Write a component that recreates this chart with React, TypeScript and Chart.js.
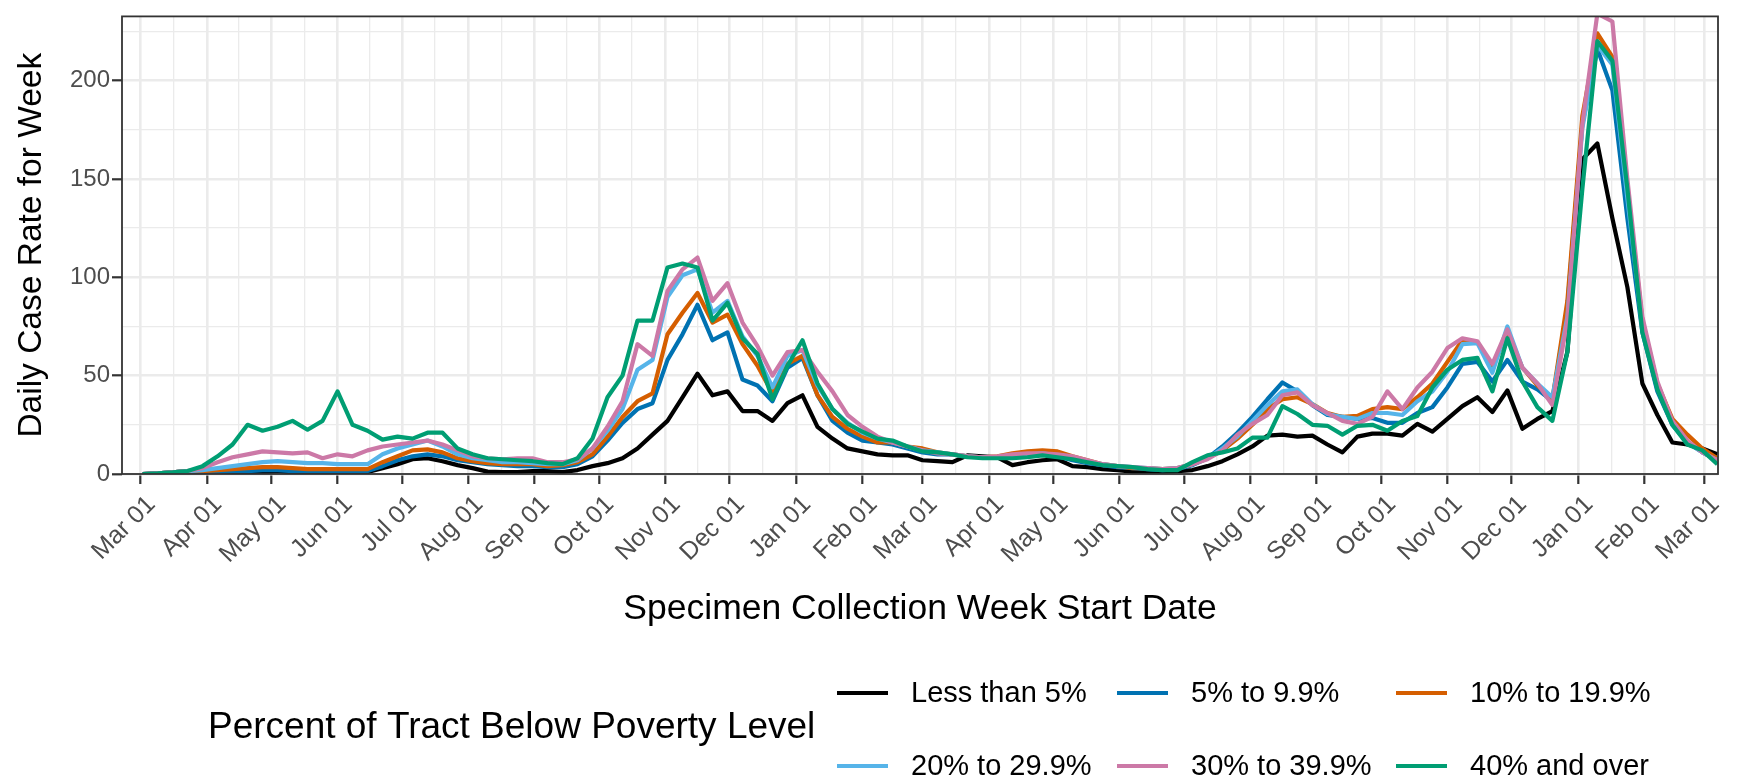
import React, { useEffect, useRef } from "react";
import { Chart, registerables } from "chart.js";

Chart.register(...registerables);

// ---------- DATA ----------
const seriesNames = [
  "Less than 5%",
  "5% to 9.9%",
  "10% to 19.9%",
  "20% to 29.9%",
  "30% to 39.9%",
  "40% and over",
];
const seriesColors = ["#000000", "#0072B2", "#D55E00", "#56B4E9", "#CC79A7", "#009E73"];

const legendTitle = "Percent of Tract Below Poverty Level";
const xTitle = "Specimen Collection Week Start Date";
const yTitle = "Daily Case Rate for Week";

// weekly values, first week starting 2020-03-02, 106 weeks
const lessThan5 = [
  0, 0.3, 0.8, 1.5, 1, 0.5, 0.5, 0.5, 0.8, 1.5, 0.8, 0.8, 0.8, 1, 1, 1, 3, 5, 7.5, 8,
  6.5, 4.5, 3, 1.2, 1, 1, 1.5, 1.5, 1, 2, 4, 5.5, 8, 13, 20, 27, 39, 51, 40, 42,
  32, 32, 27, 36, 40, 24, 18, 13, 11.5, 10, 9.5, 9.5, 7, 6.5, 6, 9.5, 9, 8.5, 4.5, 6,
  7, 7.5, 4, 3.5, 2.5, 2, 1.2, 1.2, 1.2, 1.5, 2, 4, 6.5, 10, 14, 19.5, 20, 19, 19.5, 15,
  11, 19, 20.5, 20.5, 19.5, 25.5, 21.5, 28, 34.5, 39, 31.5, 42.5, 23, 28, 32, 62, 160, 168, 130, 95,
  46, 30, 16, 15, 13, 10,
];
const pct5to9 = [
  0, 0.3, 0.8, 1.5, 1, 1, 1.5, 1.5, 2, 2, 1.5, 1.5, 1.5, 1.5, 1.5, 1.5, 4, 7, 9, 10,
  9, 7, 6, 5, 4.5, 4, 4, 3.5, 3.5, 5, 9, 17, 26, 33, 36, 58, 71, 86, 68, 72,
  48, 45, 37, 54, 59, 40, 27, 21, 17, 16, 15, 13, 11, 10, 10, 9, 8.5, 8.5, 9, 10,
  10, 9, 7, 5.5, 4.5, 3.5, 3, 2.5, 2, 2.5, 4.5, 8, 14, 21, 29, 38, 46.5, 42, 35, 30,
  29, 28, 28.5, 26, 26, 31, 34, 44, 56, 57, 47, 58, 47, 43, 37, 85, 178, 216, 195, 130,
  72, 42, 25, 16, 11, 7,
];
const pct10to19 = [
  0, 0.3, 0.8, 1.5, 1.5, 2, 2.5, 3, 3.5, 3.5, 3, 2.5, 2.5, 2.5, 2.5, 2.5, 6, 9, 12, 12.5,
  11, 8, 6.5, 5.5, 5, 5, 5, 4, 4.5, 6, 10, 19, 29, 37, 41, 71, 82, 92, 77, 81,
  66, 55, 41, 56, 60, 40, 29, 23, 19, 16, 16, 14, 13, 11, 10, 9, 8.5, 9, 10.5, 11.5,
  12, 11.5, 9, 7, 5, 4, 3, 3, 2.5, 3, 5, 8, 12, 18, 25, 33, 38, 39, 35.5, 31,
  29, 29.5, 33, 34, 33, 39, 46, 57, 68, 67, 54, 72, 54, 45, 38, 88, 182, 224, 212, 145,
  78, 46, 28, 20, 13, 8,
];
const pct20to29 = [
  0, 0.3, 0.8, 1.5, 2, 3, 4, 5, 6, 6.5, 6, 5.5, 5.5, 5, 5, 5, 10, 13, 15, 17,
  14, 10, 8, 7, 6, 6, 5.5, 5, 5, 7, 13, 22, 33, 53, 58, 90, 101, 104, 82, 88,
  70, 60, 44, 60, 63, 45, 33, 26, 21, 18, 16, 14, 12, 11, 10, 9, 8.5, 8.5, 9, 10,
  10.5, 9.5, 8, 6, 5, 4, 3.5, 3, 2.5, 3, 5, 8, 13, 19, 27, 35, 42, 43, 35.5, 30.5,
  29, 28, 31, 31, 30, 37, 42, 52, 66, 66.5, 51.5, 75, 54, 46, 39, 80, 176, 218, 208, 140,
  75, 45, 25, 16, 11, 7,
];
const pct30to39 = [
  0, 0.3, 0.8, 1.5, 3, 6, 8.5, 10, 11.5, 11, 10.5, 11, 8, 10, 9, 12, 14, 15, 16, 17,
  15, 12, 9, 8, 7.5, 8, 8, 6, 6, 7.5, 13, 24, 37, 66, 60, 93, 104, 110, 88, 97,
  77, 65, 50, 62, 63, 52, 42, 30, 24, 19, 16, 14, 12, 10.5, 10, 9, 8.5, 9, 10, 10.5,
  10.5, 10, 9, 7, 5, 4, 3.5, 3, 2.5, 3, 5, 7.5, 12, 20, 25.5, 30, 40, 41.5, 35, 31,
  27, 25.5, 29, 42, 33, 44, 52, 64, 69, 67.5, 56, 73.5, 54, 46, 35, 78, 178, 234, 230, 150,
  80, 47, 27, 17, 11, 7,
];
const pct40plus = [
  0, 0.3, 0.8, 1.5, 4, 9, 15, 25, 22, 24, 27, 22.5, 27, 42, 25, 22, 17.5, 19, 18, 21,
  21, 13, 10, 8, 7.5, 7, 6.5, 5.5, 5, 8, 18, 39, 50, 78, 78, 105, 107, 105, 78, 87,
  69, 61, 38, 55, 68, 46, 33, 25.5, 21.5, 18, 17, 14, 11.5, 11, 10, 8.5, 8, 8, 8, 8.5,
  9.5, 8.5, 7.5, 6, 4.5, 4, 3.5, 2.5, 2, 2, 6, 9.5, 11, 13, 18.5, 18.5, 34.5, 30.5, 25, 24.5,
  20, 24.5, 25, 22, 27, 29.5, 44, 53, 58, 59, 42, 69, 47, 34, 27, 62, 145, 220, 210, 145,
  72, 43, 25, 15, 12, 5,
];
const seriesValues = [lessThan5, pct5to9, pct10to19, pct20to29, pct30to39, pct40plus];

const yMajorTicks = [0, 50, 100, 150, 200];
const yMinorTicks = [25, 75, 125, 175, 225];
const monthAbbr = ["Jan", "Feb", "Mar", "Apr", "May", "Jun", "Jul", "Aug", "Sep", "Oct", "Nov", "Dec"];

// ---------- helpers ----------
const DAY_MS = 86400000;
const ORIGIN = Date.UTC(2020, 2, 1);
const dayOf = (y: number, m: number, d: number) => (Date.UTC(y, m, d) - ORIGIN) / DAY_MS;

// week start dates (Mondays) as day offsets
const weekX = lessThan5.map((_, i) => dayOf(2020, 2, 2 + 7 * i));

// month-start major ticks Mar 2020 .. Mar 2022
const xMajor: { value: number; label: string }[] = [];
for (let i = 0; i <= 24; i++) {
  const mm = 2 + i;
  const yy = 2020 + Math.floor(mm / 12);
  const m = mm % 12;
  xMajor.push({ value: dayOf(yy, m, 1), label: monthAbbr[m] + " 01" });
}
const xMinor: number[] = [];
for (let i = 0; i < xMajor.length - 1; i++) {
  xMinor.push((xMajor[i].value + xMajor[i + 1].value) / 2);
}
const xLabelMap = new Map(xMajor.map((t) => [t.value, t.label]));
const xMajorSet = new Set(xMajor.map((t) => t.value));
const yMajorSet = new Set(yMajorTicks);

const X_MIN = -8.6;
const X_MAX = 736.3;
const Y_MAX = 232.6;

const FONT = '"Liberation Sans", Arial, Helvetica, sans-serif';

const panelLegendPlugin = {
  id: "panelLegend",
  afterDatasetsDraw(chart: any) {
    const { ctx, chartArea } = chart;
    ctx.save();
    ctx.strokeStyle = "#333333";
    ctx.lineWidth = 1.8;
    ctx.strokeRect(chartArea.left, chartArea.top, chartArea.right - chartArea.left, chartArea.bottom - chartArea.top);
    ctx.restore();
  },
  afterDraw(chart: any) {
    const { ctx } = chart;
    ctx.save();
    ctx.fillStyle = "#000000";
    ctx.textBaseline = "middle";
    ctx.textAlign = "left";
    ctx.font = `37px ${FONT}`;
    ctx.fillText(legendTitle, 208, 728);
    const colKeyX = [837, 1117, 1396];
    const rowY = [693, 766];
    ctx.font = `29px ${FONT}`;
    seriesNames.forEach((name, i) => {
      const col = i % 3;
      const row = Math.floor(i / 3);
      const kx = colKeyX[col];
      const ky = rowY[row];
      ctx.strokeStyle = seriesColors[i];
      ctx.lineWidth = 4.2;
      ctx.beginPath();
      ctx.moveTo(kx, ky);
      ctx.lineTo(kx + 51, ky);
      ctx.stroke();
      ctx.fillStyle = "#000000";
      ctx.fillText(name, kx + 74, ky + 1);
    });
    ctx.restore();
  },
};

export default function App() {
  const canvasRef = useRef<HTMLCanvasElement | null>(null);

  useEffect(() => {
    const canvas = canvasRef.current;
    if (!canvas) return;
    const chart = new Chart(canvas, {
      type: "line",
      data: {
        datasets: seriesValues.map((vals, s) => ({
          label: seriesNames[s],
          data: vals.map((v, i) => ({ x: weekX[i], y: v })),
          borderColor: seriesColors[s],
          backgroundColor: seriesColors[s],
          borderWidth: 4.2,
          pointRadius: 0,
          tension: 0,
          fill: false,
          borderJoinStyle: "round",
          order: seriesNames.length - s,
        })),
      },
      options: {
        responsive: false,
        animation: false,
        devicePixelRatio: 1,
        events: [],
        layout: { padding: { top: 12, right: 20, bottom: 146, left: 0 } },
        plugins: { legend: { display: false }, tooltip: { enabled: false }, title: { display: false } },
        scales: {
          x: {
            type: "linear",
            bounds: "data",
            min: X_MIN,
            max: X_MAX,
            afterBuildTicks: (scale: any) => {
              const all = [...xMajor.map((t) => t.value), ...xMinor].sort((a, b) => a - b);
              scale.ticks = all.map((v) => ({ value: v }));
            },
            afterFit: (scale: any) => {
              scale.height = 160;
            },
            ticks: {
              autoSkip: false,
              maxRotation: 45,
              minRotation: 45,
              padding: 6,
              labelOffset: 11,
              color: "#4D4D4D",
              font: { family: FONT, size: 25 },
              callback: (value: any) => xLabelMap.get(Number(value)) ?? "",
            },
            grid: {
              color: "#EBEBEB",
              lineWidth: (c: any) => (c.tick && xMajorSet.has(c.tick.value) ? 2.6 : 1.3),
              drawTicks: true,
              tickLength: 10,
              tickWidth: 2.2,
              tickColor: (c: any) => (c.tick && xMajorSet.has(c.tick.value) ? "#333333" : "rgba(0,0,0,0)"),
            },
            border: { display: false },
            title: {
              display: true,
              text: xTitle,
              color: "#000000",
              font: { family: FONT, size: 35.5 },
              padding: { top: 0, bottom: 3 },
            },
          },
          y: {
            type: "linear",
            bounds: "data",
            min: 0,
            max: Y_MAX,
            afterBuildTicks: (scale: any) => {
              const all = [...yMajorTicks, ...yMinorTicks].sort((a, b) => a - b);
              scale.ticks = all.map((v) => ({ value: v }));
            },
            afterFit: (scale: any) => {
              scale.width = 122;
            },
            ticks: {
              autoSkip: false,
              padding: 2,
              color: "#4D4D4D",
              font: { family: FONT, size: 24 },
              callback: (value: any) => (yMajorSet.has(Number(value)) ? String(value) : ""),
            },
            grid: {
              color: "#EBEBEB",
              lineWidth: (c: any) => (c.tick && yMajorSet.has(c.tick.value) ? 2.6 : 1.3),
              drawTicks: true,
              tickLength: 10,
              tickWidth: 2.2,
              tickColor: (c: any) => (c.tick && yMajorSet.has(c.tick.value) ? "#333333" : "rgba(0,0,0,0)"),
            },
            border: { display: false },
            title: {
              display: true,
              text: yTitle,
              color: "#000000",
              font: { family: FONT, size: 33.5 },
              padding: { top: 12, bottom: 0 },
            },
          },
        },
      },
      plugins: [panelLegendPlugin],
    } as any);
    return () => {
      chart.destroy();
    };
  }, []);

  return (
    <div style={{ position: "absolute", left: 0, top: 0, width: 1738, height: 780, background: "#ffffff" }}>
      <canvas ref={canvasRef} width={1738} height={780} style={{ width: 1738, height: 780, display: "block" }} />
    </div>
  );
}
